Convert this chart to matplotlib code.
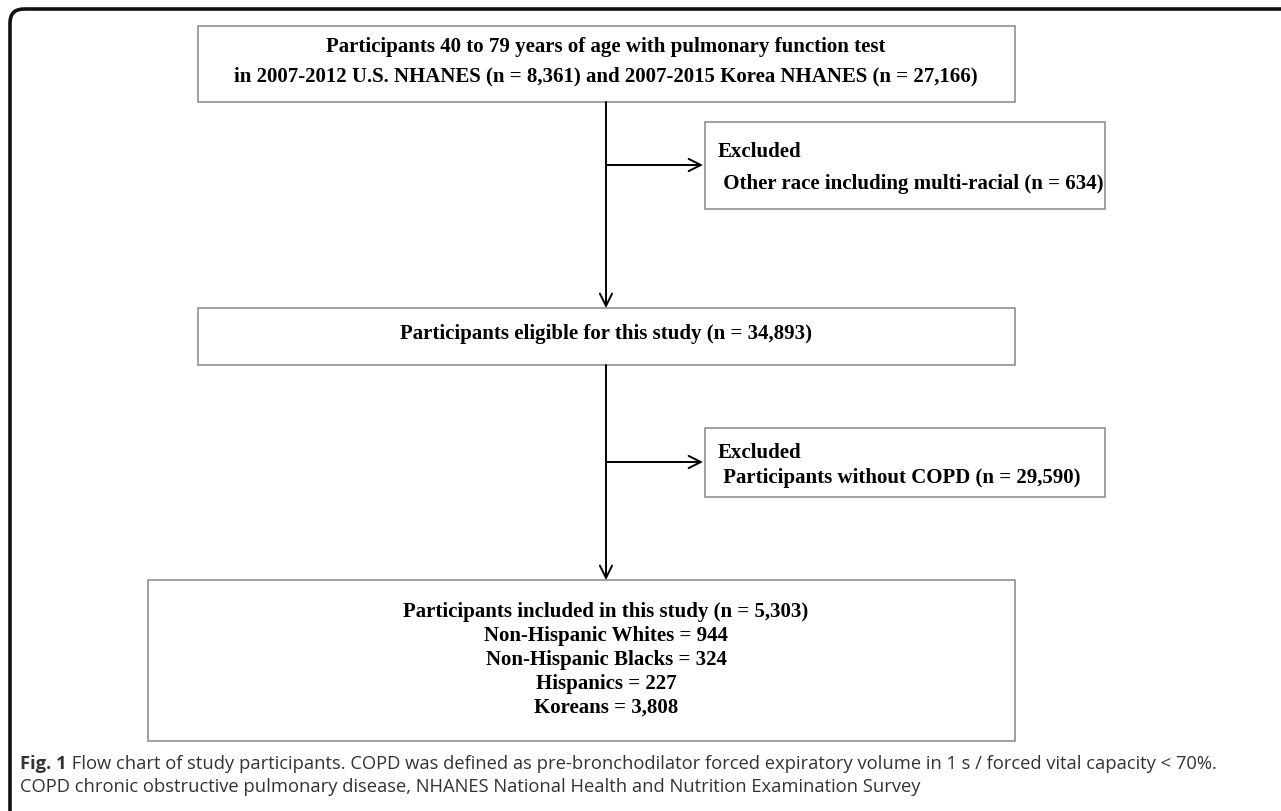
import matplotlib
matplotlib.use("Agg")
import matplotlib.pyplot as plt
from matplotlib.patches import Rectangle, FancyBboxPatch

# flowchart texts
top_lines = ["Participants 40 to 79 years of age with pulmonary function test",
             "in 2007-2012 U.S. NHANES (n = 8,361) and 2007-2015 Korea NHANES (n = 27,166)"]
excl1_lines = ["Excluded", " Other race including multi-racial (n = 634)"]
eligible_line = "Participants eligible for this study (n = 34,893)"
excl2_lines = ["Excluded", " Participants without COPD (n = 29,590)"]
final_lines = ["Participants included in this study (n = 5,303)",
               "Non-Hispanic Whites = 944",
               "Non-Hispanic Blacks = 324",
               "Hispanics = 227",
               "Koreans = 3,808"]
caption_bold = "Fig. 1"
caption_rest = (" Flow chart of study participants. COPD was defined as pre-bronchodilator forced expiratory volume in 1 s / forced vital capacity < 70%.")
caption_line2 = "COPD chronic obstructive pulmonary disease, NHANES National Health and Nutrition Examination Survey"

W, H = 1281, 812
fig = plt.figure(figsize=(W / 100, H / 100), dpi=100)
ax = fig.add_axes([0, 0, 1, 1])
ax.set_xlim(0, W)
ax.set_ylim(H, 0)
ax.axis("off")

serif = dict(family="Liberation Serif", weight="bold", fontsize=15, color="black")
box_col = "#9a9a9a"

def box(x0, y0, x1, y1):
    ax.add_patch(Rectangle((x0, y0), x1 - x0, y1 - y0, fill=False,
                           edgecolor=box_col, lw=1.3))

def arrow(x0, y0, x1, y1):
    ax.annotate("", xy=(x1, y1), xytext=(x0, y0),
                arrowprops=dict(arrowstyle="->", lw=1.4, color="black",
                                mutation_scale=22, shrinkA=0, shrinkB=0))

# outer frame, rounded top-left corner, runs off the page right and bottom
ax.add_patch(FancyBboxPatch((10, 10), 1400, 900,
                            boxstyle="round,pad=0,rounding_size=14",
                            fill=False, edgecolor="#111111", lw=2.6))

cx = 606

# top box
box(198, 27, 1015, 103)
ax.text(cx, 47, top_lines[0], ha="center", va="center", **serif)
ax.text(cx, 76, top_lines[1], ha="center", va="center", **serif)

# main arrows
arrow(cx, 103, cx, 309)
arrow(cx, 366, cx, 581)

# excluded 1
arrow(cx, 166, 703, 166)
box(705, 123, 1105, 210)
ax.text(718, 152, excl1_lines[0], ha="left", va="center", **serif)
ax.text(718, 184, excl1_lines[1], ha="left", va="center", **serif)

# eligible box
box(198, 309, 1015, 366)
ax.text(cx, 334, eligible_line, ha="center", va="center", **serif)

# excluded 2
arrow(cx, 463, 703, 463)
box(705, 429, 1105, 498)
ax.text(718, 453, excl2_lines[0], ha="left", va="center", **serif)
ax.text(718, 478, excl2_lines[1], ha="left", va="center", **serif)

# final box
box(148, 581, 1015, 742)
for i, line in enumerate(final_lines):
    ax.text(cx, 612 + i * 24, line, ha="center", va="center", **serif)

# caption
cap = dict(family="Open Sans", fontsize=13.2, color="#333333", va="center")
t = ax.text(20, 764, caption_bold, weight="bold", **cap)
fig.canvas.draw()
bb = t.get_window_extent(fig.canvas.get_renderer())
ax.text(20 + bb.width, 764, caption_rest, **cap)
ax.text(20, 787, caption_line2, **cap)

fig.savefig("out.png", dpi=100)
